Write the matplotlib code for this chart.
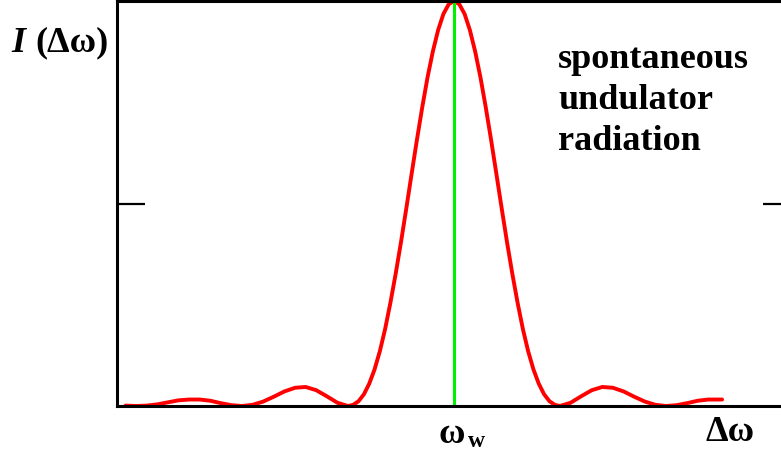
import numpy as np
import matplotlib.pyplot as plt

# spectrum (x in units of the first zero, y relative to peak)
dw = [-3.1, -3.0, -2.9, -2.8, -2.7, -2.6, -2.5, -2.4, -2.3, -2.2, -2.1, -2.0,
      -1.9, -1.8, -1.7, -1.6, -1.5, -1.4, -1.3, -1.2, -1.1, -1.0,
      -0.95, -0.9, -0.85, -0.8, -0.75, -0.7, -0.65, -0.6, -0.55, -0.5,
      -0.45, -0.4, -0.35, -0.3, -0.25, -0.2, -0.15, -0.1, -0.05, 0.0,
      0.05, 0.1, 0.15, 0.2, 0.25, 0.3, 0.35, 0.4, 0.45, 0.5,
      0.55, 0.6, 0.65, 0.7, 0.75, 0.8, 0.85, 0.9, 0.95, 1.0,
      1.1, 1.2, 1.3, 1.4, 1.5, 1.6, 1.7, 1.8, 1.9, 2.0,
      2.1, 2.2, 2.3, 2.4, 2.5, 2.53]
inten = [0.001, 0.000, 0.001, 0.004, 0.009, 0.014, 0.016, 0.016, 0.013, 0.007, 0.002, 0.000,
         0.003, 0.011, 0.023, 0.036, 0.045, 0.047, 0.039, 0.024, 0.008, 0.000,
         0.003, 0.012, 0.029, 0.055, 0.090, 0.135, 0.190, 0.255, 0.327, 0.405,
         0.488, 0.573, 0.657, 0.737, 0.811, 0.875, 0.928, 0.968, 0.992, 1.000,
         0.992, 0.968, 0.928, 0.875, 0.811, 0.737, 0.657, 0.573, 0.488, 0.405,
         0.327, 0.255, 0.190, 0.135, 0.090, 0.055, 0.029, 0.012, 0.003, 0.000,
         0.008, 0.024, 0.039, 0.047, 0.045, 0.036, 0.023, 0.011, 0.003, 0.000,
         0.002, 0.007, 0.013, 0.016, 0.016, 0.016]
ytick = [0.5]

serif = 'Liberation Serif'

fig = plt.figure(figsize=(7.81, 4.56), dpi=100)
ax = fig.add_axes([117/781, 49/456, 674/781, 405/456])

ax.plot(dw, inten, color='#ff0000', lw=2.8, solid_capstyle='round')
ax.plot([0, 0], [0, 1], color='#00f000', lw=2.2)

ax.set_xlim(-3.18, 3.18)
ax.set_ylim(0, 1.0)
ax.set_xticks([])
ax.set_yticks(ytick)
ax.set_yticklabels([])
ax.tick_params(axis='y', direction='in', length=20, width=1.6, left=True, right=True)
ax.spines['right'].set_visible(False)
for s in ['left', 'top', 'bottom']:
    ax.spines[s].set_linewidth(2.2)
    ax.spines[s].set_color('black')

# labels
fig.text(11/781, 1 - 43/456, 'I', family=serif, weight='bold', style='italic',
         fontsize=26, ha='left', va='center')
fig.text(35/781, 1 - 43/456, '(Δω)', family=serif, weight='bold',
         fontsize=26, ha='left', va='center')

fig.text(439/781, 1 - 435/456, 'ω', family=serif, weight='bold',
         fontsize=26, ha='left', va='center')
fig.text(468/781, 1 - 442/456, 'w', family=serif, weight='bold',
         fontsize=17, ha='left', va='center')
fig.text(706/781, 1 - 433/456, 'Δω', family=serif, weight='bold',
         fontsize=26, ha='left', va='center')

for i, line in enumerate(['spontaneous', 'undulator', 'radiation']):
    fig.text(558/781, 1 - (68 + 41*i)/456, line, family=serif, weight='bold',
             fontsize=26, ha='left', va='baseline')

fig.savefig('out.png', dpi=100)
